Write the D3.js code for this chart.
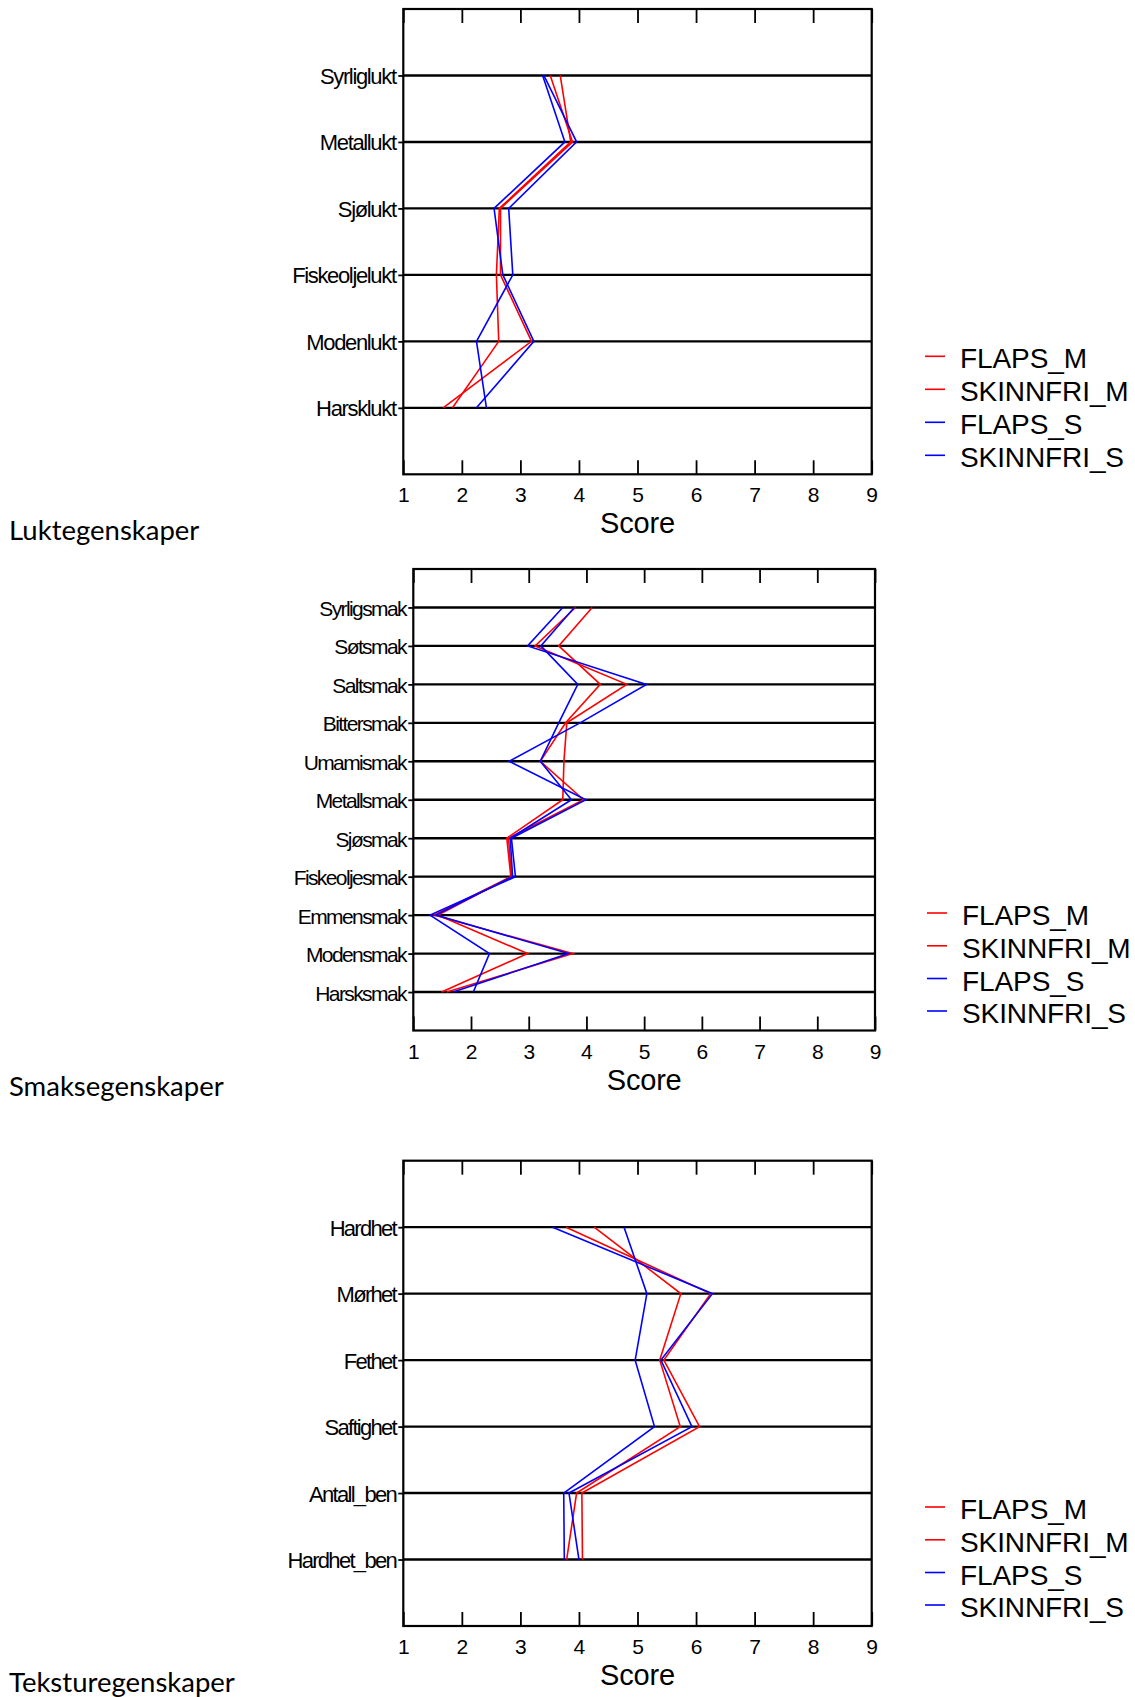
<!DOCTYPE html>
<html>
<head>
<meta charset="utf-8">
<script src="https://cdn.jsdelivr.net/npm/d3@7"></script>
<style>
  html, body { margin: 0; padding: 0; background: #fff; }
  svg { display: block; }
</style>
</head>
<body>
<svg id="chart" width="1135" height="1697"></svg>
<script>
// Series drawn in every panel
const seriesNames = ["FLAPS_M", "SKINNFRI_M", "FLAPS_S", "SKINNFRI_S"];
const scoreTicks = [1, 2, 3, 4, 5, 6, 7, 8, 9];

// Odour attributes (Luktegenskaper)
const luktCategories = ["Syrliglukt", "Metallukt", "Sjølukt", "Fiskeoljelukt", "Modenlukt", "Harsklukt"];
const luktFlapsM     = [3.68, 3.86, 2.64, 2.59, 2.63, 1.84];
const luktSkinnfriM  = [3.51, 3.89, 2.66, 2.66, 3.19, 1.68];
const luktFlapsS     = [3.38, 3.76, 2.55, 2.70, 3.23, 2.25];
const luktSkinnfriS  = [3.40, 3.96, 2.80, 2.87, 2.25, 2.42];

// Taste attributes (Smaksegenskaper)
const smakCategories = ["Syrligsmak", "Søtsmak", "Saltsmak", "Bittersmak", "Umamismak", "Metallsmak",
                        "Sjøsmak", "Fiskeoljesmak", "Emmensmak", "Modensmak", "Harsksmak"];
const smakFlapsM     = [3.81, 3.11, 4.70, 3.66, 3.61, 3.59, 2.62, 2.69, 1.36, 3.76, 1.58];
const smakSkinnfriM  = [4.10, 3.52, 4.24, 3.64, 3.20, 3.95, 2.65, 2.70, 1.43, 2.98, 1.49];
const smakFlapsS     = [3.59, 2.98, 5.04, 3.89, 2.66, 3.99, 2.70, 2.77, 1.29, 2.32, 2.04];
const smakSkinnfriS  = [3.79, 3.21, 3.85, 3.52, 3.20, 3.74, 2.68, 2.72, 1.39, 3.69, 1.69];

// Texture attributes (Teksturegenskaper)
const teksturCategories = ["Hardhet", "Mørhet", "Fethet", "Saftighet", "Antall_ben", "Hardhet_ben"];
const teksturFlapsM     = [4.26, 5.74, 5.38, 5.73, 3.96, 3.79];
const teksturSkinnfriM  = [3.78, 6.25, 5.45, 6.06, 4.05, 4.06];
const teksturFlapsS     = [4.77, 5.16, 4.96, 5.29, 3.74, 3.75];
const teksturSkinnfriS  = [3.55, 6.28, 5.40, 5.93, 3.83, 4.00];

const sectionTitles = ["Luktegenskaper", "Smaksegenskaper", "Teksturegenskaper"];

// ---- styling / layout ----
const seriesColor = { FLAPS_M: "#ff0000", SKINNFRI_M: "#ff0000", FLAPS_S: "#0000ff", SKINNFRI_S: "#0000ff" };
const axisFont = "'Liberation Sans', Arial, sans-serif";

const panels = [
  {
    categories: luktCategories,
    values: [luktFlapsM, luktSkinnfriM, luktFlapsS, luktSkinnfriS],
    box: { left: 403.3, right: 871.7, top: 9, bottom: 474.3 },
    labelSize: 22, labelSpacing: -1.35,
    legend: { x: 925, baselines: [368.3, 401.3, 434.3, 467.3] },
    title: { x: 9, y: 540 }
  },
  {
    categories: smakCategories,
    values: [smakFlapsM, smakSkinnfriM, smakFlapsS, smakSkinnfriS],
    box: { left: 413.3, right: 875, top: 569, bottom: 1030.5 },
    labelSize: 21, labelSpacing: -1.6,
    legend: { x: 927, baselines: [925, 957.8, 990.5, 1023] },
    title: { x: 9, y: 1096 }
  },
  {
    categories: teksturCategories,
    values: [teksturFlapsM, teksturSkinnfriM, teksturFlapsS, teksturSkinnfriS],
    box: { left: 403.3, right: 871.7, top: 1160.7, bottom: 1626 },
    labelSize: 22, labelSpacing: -1.7,
    legend: { x: 925, baselines: [1519, 1551.8, 1584.5, 1617] },
    title: { x: 9, y: 1692 }
  }
];

const svg = d3.select("#chart");
svg.append("rect").attr("width", 1135).attr("height", 1697).attr("fill", "#fff");

panels.forEach((p, pi) => {
  const b = p.box;
  const g = svg.append("g");

  const x = d3.scaleLinear().domain([1, 9]).range([b.left, b.right]);
  const y = d3.scalePoint().domain(p.categories).range([b.top, b.bottom]).padding(1);

  // horizontal reference line per attribute
  g.append("g").selectAll("line")
    .data(p.categories)
    .join("line")
    .attr("x1", b.left).attr("x2", b.right)
    .attr("y1", d => y(d)).attr("y2", d => y(d))
    .attr("stroke", "#000").attr("stroke-width", 2.4);

  // bottom axis: inward ticks + score labels
  const bottomAxis = g.append("g")
    .attr("transform", `translate(0,${b.bottom})`)
    .call(d3.axisBottom(x).tickValues(scoreTicks).tickSize(-14).tickPadding(0).tickFormat(d3.format("d")));
  bottomAxis.select(".domain").remove();
  bottomAxis.selectAll(".tick line").attr("stroke", "#000").attr("stroke-width", 1.8);
  bottomAxis.selectAll(".tick text")
    .attr("y", 28).attr("dy", null)
    .attr("fill", "#000")
    .style("font-family", axisFont).style("font-size", "21px");

  // top axis: inward ticks only
  const topAxis = g.append("g")
    .attr("transform", `translate(0,${b.top})`)
    .call(d3.axisTop(x).tickValues(scoreTicks).tickSize(-14).tickFormat(""));
  topAxis.select(".domain").remove();
  topAxis.selectAll(".tick line").attr("stroke", "#000").attr("stroke-width", 1.8);

  // left axis with attribute names
  const leftAxis = g.append("g")
    .attr("transform", `translate(${b.left},0)`)
    .call(d3.axisLeft(y).tickSize(5).tickPadding(2));
  leftAxis.select(".domain").remove();
  leftAxis.selectAll(".tick line").attr("stroke", "#000").attr("stroke-width", 1.8);
  leftAxis.selectAll(".tick text")
    .attr("dy", null).attr("y", 8).attr("x", -9 - p.labelSpacing)
    .attr("fill", "#000")
    .style("font-family", axisFont)
    .style("font-size", p.labelSize + "px")
    .style("letter-spacing", p.labelSpacing + "px");

  // plot frame
  g.append("rect")
    .attr("x", b.left).attr("y", b.top)
    .attr("width", b.right - b.left).attr("height", b.bottom - b.top)
    .attr("fill", "none").attr("stroke", "#000").attr("stroke-width", 2.2);

  // x-axis title
  g.append("text")
    .attr("x", (b.left + b.right) / 2).attr("y", b.bottom + 59)
    .attr("text-anchor", "middle")
    .style("font-family", axisFont).style("font-size", "29px")
    .style("letter-spacing", "-0.2px")
    .text("Score");

  // profile lines
  const line = d3.line()
    .x(d => x(d.value))
    .y(d => y(d.category));

  seriesNames.forEach((name, si) => {
    const pts = p.categories.map((c, ci) => ({ category: c, value: p.values[si][ci] }));
    g.append("path")
      .datum(pts)
      .attr("d", line)
      .attr("fill", "none")
      .attr("stroke", seriesColor[name])
      .attr("stroke-width", 1.6)
      .attr("stroke-linejoin", "miter");
  });

  // legend
  const lg = g.append("g");
  seriesNames.forEach((name, si) => {
    const by = p.legend.baselines[si];
    lg.append("line")
      .attr("x1", p.legend.x).attr("x2", p.legend.x + 20)
      .attr("y1", by - 12).attr("y2", by - 12)
      .attr("stroke", seriesColor[name]).attr("stroke-width", 1.6);
    lg.append("text")
      .attr("x", p.legend.x + 35).attr("y", by)
      .style("font-family", axisFont).style("font-size", "28px")
      .style("letter-spacing", "-0.1px")
      .text(name);
  });

  // section title
  svg.append("text")
    .attr("x", p.title.x).attr("y", p.title.y)
    .style("font-family", "Lato, 'Open Sans', sans-serif")
    .style("font-size", "27.5px")
    .text(sectionTitles[pi]);
});
</script>
</body>
</html>
